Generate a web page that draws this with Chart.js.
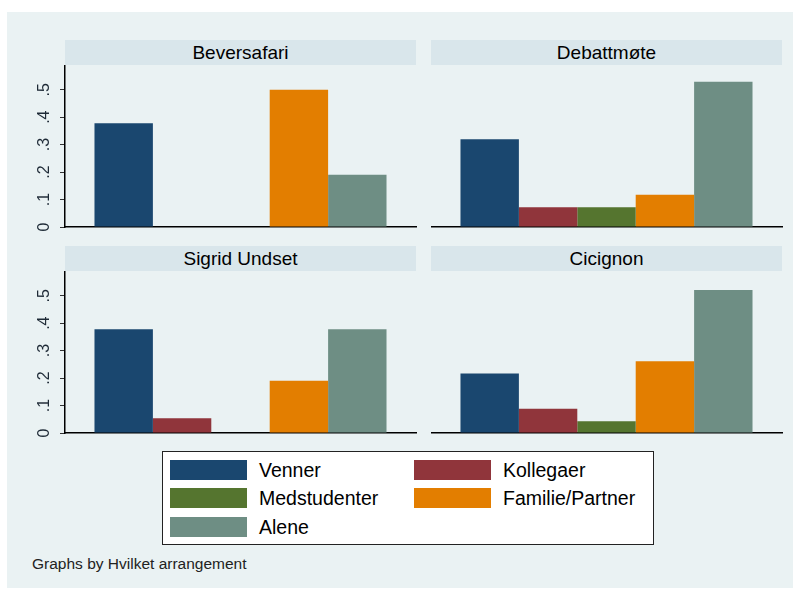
<!DOCTYPE html>
<html>
<head>
<meta charset="utf-8">
<script src="https://cdn.jsdelivr.net/npm/chart.js@4.4.1/dist/chart.umd.min.js"></script>
<style>
  body { margin: 0; background: #fff; font-family: "Liberation Sans", Arial, sans-serif; }
  #bg { position: absolute; left: 7px; top: 12px; width: 786px; height: 576px; background: #eaf2f3; }
  .strip { position: absolute; height: 25px; background: #d9e6eb; text-align: center;
           font-size: 19px; line-height: 26px; color: #000; }
  .panel { position: absolute; }
  #legend { position: absolute; left: 162px; top: 451px; width: 490px; height: 92px;
            background: #fff; border: 1.5px solid #222; }
  .item { position: absolute; height: 20px; }
  .sw { position: absolute; left: 0; top: 0; width: 77px; height: 20px; }
  .lab { position: absolute; left: 89px; top: -2px; font-size: 19.5px; line-height: 24px; white-space: nowrap; color: #000; }
  #note { position: absolute; left: 32px; top: 555px; font-size: 15.5px; color: #222; }
</style>
</head>
<body>
<div id="bg"></div>
<div id="legend"></div>
<div id="note">Graphs by Hvilket arrangement</div>

<script>
// Data
const panels = ['Beversafari', 'Debattmøte', 'Sigrid Undset', 'Cicignon'];
const seriesNames = ['Venner', 'Kollegaer', 'Medstudenter', 'Familie/Partner', 'Alene'];
const seriesColors = ['#1a476f', '#90353b', '#55752f', '#e37e00', '#6e8e84'];
const venner       = [0.378, 0.320, 0.378, 0.217];
const kollegaer    = [0,     0.072, 0.054, 0.088];
const medstudenter = [0,     0.072, 0,     0.043];
const familie      = [0.500, 0.117, 0.190, 0.261];
const alene        = [0.190, 0.529, 0.378, 0.521];
const yTicks = ['0', '.1', '.2', '.3', '.4', '.5'];
const seriesValues = [venner, kollegaer, medstudenter, familie, alene];

// Panel placement (plot area left/top)
const layout = [
    { left: 65, top: 40, yLabels: true },
    { left: 431, top: 40, yLabels: false },
    { left: 65, top: 246, yLabels: true },
    { left: 431, top: 246, yLabels: false }
];
const plotW = 351, plotH = 162, stripH = 25, axisW = 45, xAxisH = 4;

panels.forEach((name, p) => {
    const L = layout[p];
    const strip = document.createElement('div');
    strip.className = 'strip';
    strip.style.left = L.left + 'px';
    strip.style.top = L.top + 'px';
    strip.style.width = plotW + 'px';
    strip.textContent = name;
    document.body.appendChild(strip);

    const offX = L.yLabels ? axisW : 0;
    const wrap = document.createElement('div');
    wrap.className = 'panel';
    wrap.style.left = (L.left - offX) + 'px';
    wrap.style.top = (L.top + stripH) + 'px';
    wrap.style.width = (plotW + offX + 2) + 'px';
    wrap.style.height = (plotH + xAxisH) + 'px';
    const canvas = document.createElement('canvas');
    wrap.appendChild(canvas);
    document.body.appendChild(wrap);

    new Chart(canvas, {
        type: 'bar',
        data: {
            labels: [''],
            datasets: seriesNames.map((s, i) => ({
                label: s,
                data: [seriesValues[i][p]],
                backgroundColor: seriesColors[i],
                borderWidth: 0
            }))
        },
        options: {
            responsive: true,
            maintainAspectRatio: false,
            animation: false,
            layout: { padding: { right: 2 }, autoPadding: false },
            categoryPercentage: 0.832,
            barPercentage: 1,
            plugins: { legend: { display: false }, tooltip: { enabled: false } },
            scales: {
                x: {
                    grid: { display: false },
                    ticks: { display: false },
                    border: { display: true, color: '#000', width: 1.5 },
                    afterFit: s => { s.height = xAxisH; }
                },
                y: {
                    min: 0,
                    max: 0.59,
                    ticks: {
                        display: L.yLabels,
                        stepSize: 0.1,
                        includeBounds: false,
                        minRotation: 90,
                        maxRotation: 90,
                        crossAlign: 'center',
                        padding: 9,
                        color: '#1e2a36',
                        font: { family: 'Liberation Sans', size: 16 },
                        callback: (v, i) => yTicks[i]
                    },
                    grid: {
                        color: '#eaf2f3',
                        lineWidth: 1,
                        drawTicks: L.yLabels,
                        tickLength: 5,
                        tickColor: '#333'
                    },
                    border: { display: L.yLabels, color: '#000', width: 1.5 },
                    afterFit: s => {
                        s.width = offX;
                        s.paddingTop = 0;
                        s.paddingBottom = 0;
                    }
                }
            }
        }
    });
});

// Legend (two columns)
const legend = document.getElementById('legend');
seriesNames.forEach((s, i) => {
    const item = document.createElement('div');
    item.className = 'item';
    item.style.left = (i % 2 === 0 ? 7 : 251) + 'px';
    item.style.top = (8 + Math.floor(i / 2) * 28.3) + 'px';
    item.innerHTML = `<div class="sw" style="background:${seriesColors[i]}"></div><div class="lab">${s}</div>`;
    legend.appendChild(item);
});
</script>
</body>
</html>
